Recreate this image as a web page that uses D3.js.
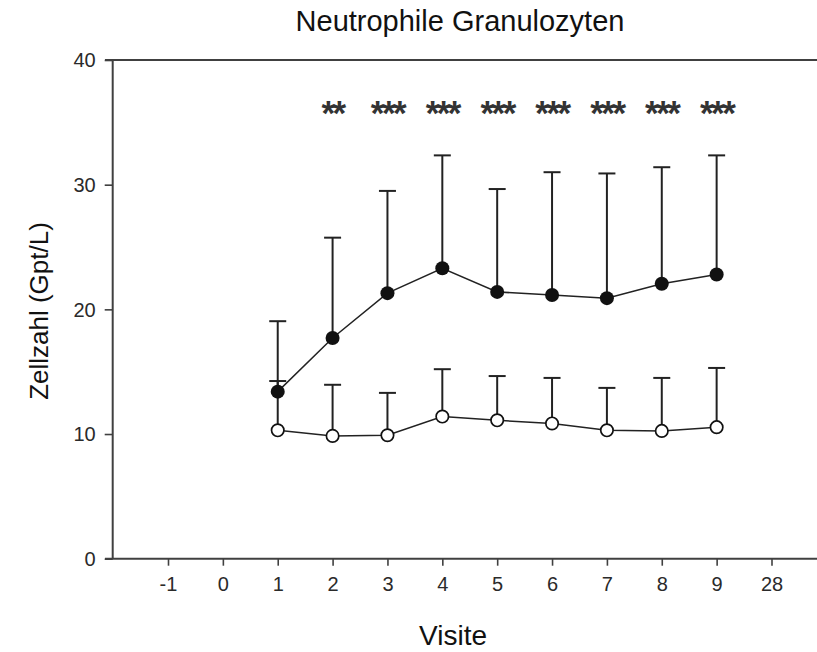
<!DOCTYPE html>
<html>
<head>
<meta charset="utf-8">
<script src="https://cdn.jsdelivr.net/npm/d3@7"></script>
<style>
  html, body { margin: 0; padding: 0; background: #fff; }
  svg { display: block; font-family: "Liberation Sans", Arial, sans-serif; }
</style>
</head>
<body>
<svg id="chart" width="817" height="652"></svg>
<script>
// ---- data ----
const categories = ["-1", "0", "1", "2", "3", "4", "5", "6", "7", "8", "9", "28"];
const yTicks = [0, 10, 20, 30, 40];
const filledVisits = ["1", "2", "3", "4", "5", "6", "7", "8", "9"];
const filledMean = [13.4, 17.7, 21.3, 23.3, 21.4, 21.15, 20.9, 22.05, 22.8];
const filledUpper = [19.05, 25.75, 29.5, 32.35, 29.65, 31.0, 30.9, 31.4, 32.35];
const openVisits = ["1", "2", "3", "4", "5", "6", "7", "8", "9"];
const openMean = [10.3, 9.85, 9.9, 11.4, 11.1, 10.85, 10.3, 10.25, 10.55];
const openUpper = [14.25, 13.95, 13.3, 15.2, 14.65, 14.5, 13.7, 14.5, 15.3];
const sigVisits = ["2", "3", "4", "5", "6", "7", "8", "9"];
const sigLabels = ["**", "***", "***", "***", "***", "***", "***", "***"];

// ---- layout ----
const svg = d3.select("#chart");
const axisX = 112.7, axisTop = 60, axisBottom = 558.7, rightEnd = 817;

const x = d3.scalePoint().domain(categories).range([168, 771.5]);
const y = d3.scaleLinear().domain([0, 40]).range([axisBottom, axisTop]);

const axisColor = "#404040";
const textColor = "#2a2a2a";
const FONT = "'Liberation Sans', Arial, sans-serif";

// top border line
svg.append("line")
  .attr("x1", 105).attr("x2", rightEnd)
  .attr("y1", axisTop).attr("y2", axisTop)
  .attr("stroke", axisColor).attr("stroke-width", 2);

// Y axis
const yAxis = svg.append("g")
  .attr("transform", `translate(${axisX},0)`)
  .call(d3.axisLeft(y).tickValues(yTicks).tickSize(8).tickPadding(9));
yAxis.select(".domain").remove();
yAxis.append("line").attr("x1", 0).attr("x2", 0)
  .attr("y1", axisTop).attr("y2", axisBottom)
  .attr("stroke", axisColor).attr("stroke-width", 2);
yAxis.selectAll(".tick line").attr("stroke", axisColor).attr("stroke-width", 1.6);
yAxis.selectAll(".tick text")
  .attr("font-size", 20).attr("fill", textColor).attr("font-family", FONT)
  .attr("dy", "0.34em");

// X axis
const xAxis = svg.append("g")
  .attr("transform", `translate(0,${axisBottom})`)
  .call(d3.axisBottom(x).tickSize(7).tickPadding(11));
xAxis.select(".domain").remove();
xAxis.append("line").attr("x1", 105).attr("x2", rightEnd)
  .attr("y1", 0).attr("y2", 0)
  .attr("stroke", axisColor).attr("stroke-width", 2);
xAxis.selectAll(".tick line").attr("stroke", axisColor).attr("stroke-width", 1.6);
xAxis.selectAll(".tick text")
  .attr("font-size", 20).attr("fill", textColor).attr("font-family", FONT);

// Titles
svg.append("text")
  .attr("x", 460).attr("y", 31)
  .attr("text-anchor", "middle")
  .attr("font-size", 29).attr("fill", "#111")
  .text("Neutrophile Granulozyten");

svg.append("text")
  .attr("transform", "translate(48,311) rotate(-90)")
  .attr("text-anchor", "middle")
  .attr("font-size", 26).attr("fill", "#111")
  .text("Zellzahl (Gpt/L)");

svg.append("text")
  .attr("x", 453).attr("y", 645)
  .attr("text-anchor", "middle")
  .attr("font-size", 28).attr("fill", "#111")
  .text("Visite");

// ---- series ----
function series(visits, mean, upper) {
  const pts = visits.map((v, i) => ({ v, m: mean[i], u: upper[i] }));
  const line = d3.line().x(d => x(d.v)).y(d => y(d.m));
  svg.append("path").datum(pts)
    .attr("d", line).attr("fill", "none")
    .attr("stroke", "#222").attr("stroke-width", 1.5);
  const g = svg.append("g");
  g.selectAll("line.err").data(pts).enter().append("line")
    .attr("x1", d => x(d.v)).attr("x2", d => x(d.v))
    .attr("y1", d => y(d.m)).attr("y2", d => y(d.u))
    .attr("stroke", "#222").attr("stroke-width", 2);
  g.selectAll("line.cap").data(pts).enter().append("line")
    .attr("x1", d => x(d.v) - 8.5).attr("x2", d => x(d.v) + 8.5)
    .attr("y1", d => y(d.u)).attr("y2", d => y(d.u))
    .attr("stroke", "#222").attr("stroke-width", 2);
  return pts;
}
const openPts = series(openVisits, openMean, openUpper);
const filledPts = series(filledVisits, filledMean, filledUpper);

svg.append("g").selectAll("circle").data(openPts).enter().append("circle")
  .attr("cx", d => x(d.v)).attr("cy", d => y(d.m)).attr("r", 6.2)
  .attr("fill", "#fff").attr("stroke", "#111").attr("stroke-width", 1.7);
svg.append("g").selectAll("circle").data(filledPts).enter().append("circle")
  .attr("cx", d => x(d.v)).attr("cy", d => y(d.m)).attr("r", 7)
  .attr("fill", "#111");

// significance stars
svg.append("g").selectAll("text").data(sigVisits.map((v, i) => ({ v, t: sigLabels[i] })))
  .enter().append("text")
  .attr("x", d => x(d.v)).attr("y", 125)
  .attr("text-anchor", "middle")
  .attr("font-size", 35).attr("font-weight", "bold")
  .attr("letter-spacing", -2.5)
  .attr("fill", "#333")
  .text(d => d.t);
</script>
</body>
</html>
